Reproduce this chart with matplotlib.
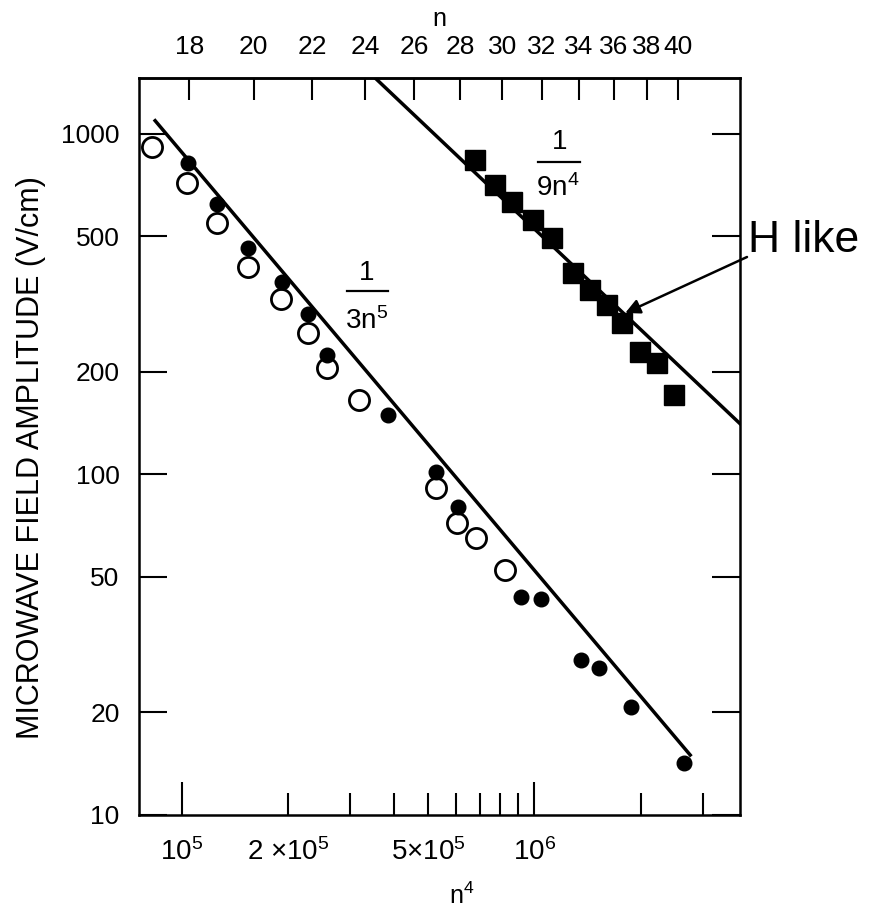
import matplotlib
matplotlib.use('Agg')
import matplotlib.pyplot as plt
from matplotlib.ticker import NullLocator

plt.rcParams['font.family'] = ['Liberation Sans', 'DejaVu Sans']
plt.rcParams['mathtext.default'] = 'regular'

# ---------------- data ----------------
open_x = [8.25e4, 1.033e5, 1.257e5, 1.545e5, 1.912e5, 2.286e5, 2.578e5, 3.184e5,
          5.266e5, 6.027e5, 6.837e5, 8.228e5]
open_y = [918, 720, 547, 408, 328, 260, 205, 165.5, 91.3, 71.9, 64.9, 52.4]

filled_x = [1.044e5, 1.257e5, 1.545e5, 1.929e5, 2.286e5, 2.588e5, 3.856e5, 5.255e5,
            6.09e5, 9.175e5, 1.046e6, 1.358e6, 1.524e6, 1.882e6, 2.649e6]
filled_y = [820, 623, 462, 368, 297, 224, 149.5, 102, 80.1, 43.8, 43.0, 28.5, 27.1, 20.7, 14.2]

square_x = [6.792e5, 7.741e5, 8.635e5, 9.94e5, 1.121e6, 1.291e6, 1.44e6, 1.606e6,
            1.771e6, 1.996e6, 2.226e6, 2.481e6]
square_y = [839, 708, 633, 559, 494, 390, 348, 315, 278, 229, 212, 171]

# theory lines 1/(3n^5) and 1/(9n^4)
line5_x = [8.40e4, 2.767e6]
line5_y = [1094, 15.0]
line4_x = [3.535e5, 3.83e6]
line4_y = [1460, 141.0]

y_ticks = [10, 20, 50, 100, 200, 500, 1000]
y_labels = ['10', '20', '50', '100', '200', '500', '1000']
x_major = [1e5, 1e6]
x_major_labels = ['$10^5$', '$10^6$']
x_minor = [2e5, 3e5, 4e5, 5e5, 6e5, 7e5, 8e5, 9e5, 2e6, 3e6]
x_minor_labels = ['2 \u00d710$^5$', '', '', '5\u00d710$^5$', '', '', '', '', '', '']
n_top = [18, 20, 22, 24, 26, 28, 30, 32, 34, 36, 38, 40]

arrow_target = (1.81e6, 298)

# ---------------- figure ----------------
fig = plt.figure(figsize=(8.82, 9.11), dpi=100)
ax = fig.add_axes([139/882, 1-815/911, 601/882, 737/911])
ax.set_xscale('log')
ax.set_yscale('log')
ax.set_xlim(7.56e4, 3.83e6)
ax.set_ylim(10, 1460)

ax.plot(line5_x, line5_y, color='black', lw=2.5, zorder=2)
ax.plot(line4_x, line4_y, color='black', lw=2.5, zorder=2)
ax.plot(open_x, open_y, linestyle='none', marker='o', markersize=14.5,
        markerfacecolor='white', markeredgecolor='black', markeredgewidth=2.0, zorder=3)
ax.plot(filled_x, filled_y, linestyle='none', marker='o', markersize=10.5,
        color='black', zorder=4)
ax.plot(square_x, square_y, linestyle='none', marker='s', markersize=14,
        color='black', zorder=4)

for s in ax.spines.values():
    s.set_linewidth(1.8)

ax.set_yticks(y_ticks)
ax.set_yticklabels(y_labels)
ax.yaxis.set_minor_locator(NullLocator())
ax.set_xticks(x_major)
ax.set_xticklabels(x_major_labels)
ax.set_xticks(x_minor, minor=True)
ax.set_xticklabels(x_minor_labels, minor=True)

ax.tick_params(axis='y', which='major', direction='in', length=20, width=1.5,
               left=True, right=True, labelsize=19, pad=14)
ax.tick_params(axis='x', which='major', direction='in', length=24, width=1.5,
               top=False, labelsize=20, pad=17)
ax.tick_params(axis='x', which='minor', direction='in', length=16, width=1.5,
               top=False, labelsize=20, pad=17)

sec = ax.secondary_xaxis('top')
sec.set_xticks([n**4 for n in n_top])
sec.set_xticklabels([str(n) for n in n_top])
sec.xaxis.set_minor_locator(NullLocator())
sec.tick_params(axis='x', which='major', direction='in', length=16, width=1.5,
                labelsize=19, pad=14)
sec.spines['top'].set_linewidth(1.8)
sec.set_xlabel('n', fontsize=18, labelpad=6)

ax.set_xlabel('n$^4$', fontsize=18)
ax.xaxis.set_label_coords(0.537, -0.092)
ax.set_ylabel('MICROWAVE FIELD AMPLITUDE (V/cm)', fontsize=22)
ax.yaxis.set_label_coords(-0.155, 0.485)

# fraction annotations
ax.text(0.379, 0.735, '1', transform=ax.transAxes, ha='center', va='center', fontsize=20)
ax.plot([0.3455, 0.4148], [0.711, 0.711], transform=ax.transAxes, color='black', lw=1.6)
ax.text(0.379, 0.670, '3n$^5$', transform=ax.transAxes, ha='center', va='center', fontsize=20)

ax.text(0.700, 0.913, '1', transform=ax.transAxes, ha='center', va='center', fontsize=20)
ax.plot([0.664, 0.734], [0.8856, 0.8856], transform=ax.transAxes, color='black', lw=1.6)
ax.text(0.697, 0.850, '9n$^4$', transform=ax.transAxes, ha='center', va='center', fontsize=20)

# H like annotation
fig.text(748/882, 1-241/911, 'H like', fontsize=32, ha='left', va='center')
ax.annotate('', xy=arrow_target, xycoords='data',
            xytext=(747/882, 1-257/911), textcoords='figure fraction',
            arrowprops=dict(arrowstyle='-|>', color='black', lw=1.8,
                            mutation_scale=22, shrinkA=0, shrinkB=0),
            annotation_clip=False)

fig.savefig('out.png', dpi=100)
